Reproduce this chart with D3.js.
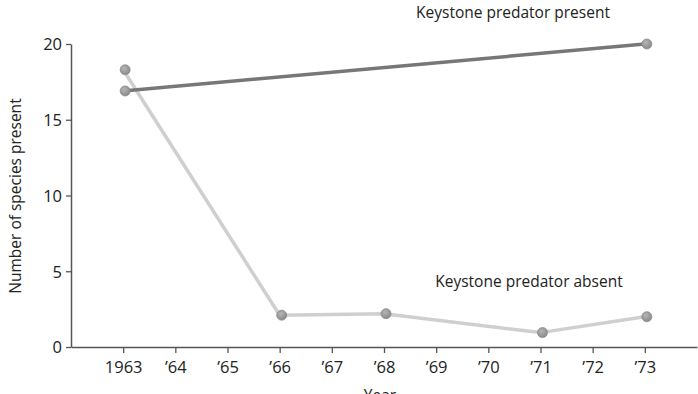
<!DOCTYPE html>
<html><head><meta charset="utf-8">
<script src="https://cdn.jsdelivr.net/npm/d3@7"></script>
<style>body{margin:0;background:#fff;}svg{display:block;font-family:"Open Sans",sans-serif;}</style>
</head><body>
<svg id="c" width="698" height="394"></svg>
<script>
const years = [1963,1964,1965,1966,1967,1968,1969,1970,1971,1972,1973];
const tickLabels = ["1963","\u201964","\u201965","\u201966","\u201967","\u201968","\u201969","\u201970","\u201971","\u201972","\u201973"];
const presentYears = [1963,1973];
const presentValues = [16.9,20.0];
const absentYears = [1963,1966,1968,1971,1973];
const absentValues = [18.3,2.1,2.2,0.95,2.0];
const yTicks = [0,5,10,15,20];

const svg = d3.select("#c");
const x = d3.scaleLinear().domain([1962,1974]).range([71,697]);
const y = d3.scaleLinear().domain([0,20]).range([347,44]);
const axisColor = "#555";
const font = "'Open Sans',sans-serif";

// axes
const gx = svg.append("g").attr("transform","translate(0,347)")
  .call(d3.axisBottom(x).tickValues(years).tickFormat((d,i)=>tickLabels[i]).tickSize(6).tickSizeOuter(0).tickPadding(6));
const gy = svg.append("g").attr("transform","translate(71,0)")
  .call(d3.axisLeft(y).tickValues(yTicks).tickSize(5).tickSizeOuter(0).tickPadding(4));
[gx,gy].forEach(g=>{
  g.select(".domain").attr("stroke",axisColor).attr("stroke-width",1.5);
  g.selectAll(".tick line").attr("stroke",axisColor).attr("stroke-width",1.3);
  g.selectAll(".tick text").attr("fill","#222").style("font-size","16.5px").style("font-family",font);
});
gx.selectAll(".tick text").attr("dy","0.86em");
gy.selectAll(".tick text").attr("dy","0.35em");

const line = d3.line().x(d=>x(d[0])).y(d=>y(d[1]));
const absent = absentYears.map((d,i)=>[d,absentValues[i]]);
const present = presentYears.map((d,i)=>[d,presentValues[i]]);

svg.append("path").datum(absent).attr("d",line).attr("fill","none").attr("stroke","#cfcfcf").attr("stroke-width",3.5);
svg.append("path").datum(present).attr("d",line).attr("fill","none").attr("stroke","#777").attr("stroke-width",3.5);

const defs = svg.append("defs");
const grad = defs.append("radialGradient").attr("id","dot").attr("cx","40%").attr("cy","35%").attr("r","65%");
grad.append("stop").attr("offset","0%").attr("stop-color","#b5b5b5");
grad.append("stop").attr("offset","100%").attr("stop-color","#8a8a8a");

[absent,present].forEach(s=>{
  svg.append("g").selectAll("circle").data(s).join("circle")
    .attr("cx",d=>x(d[0])+2).attr("cy",d=>y(d[1])).attr("r",5)
    .attr("fill","url(#dot)").attr("stroke","#8a8a8a").attr("stroke-width",0.8);
});

svg.append("text").attr("x",513).attr("y",18).attr("text-anchor","middle")
  .attr("fill","#222").style("font-size","15.5px").text("Keystone predator present");
svg.append("text").attr("x",529).attr("y",287).attr("text-anchor","middle")
  .attr("fill","#222").style("font-size","15.5px").text("Keystone predator absent");

svg.append("text").attr("transform","translate(21,196) rotate(-90)").attr("text-anchor","middle")
  .attr("fill","#222").style("font-size","15.5px").text("Number of species present");
svg.append("text").attr("x",380).attr("y",401).attr("text-anchor","middle")
  .attr("fill","#222").style("font-size","15.5px").text("Year");
</script>
</body></html>
